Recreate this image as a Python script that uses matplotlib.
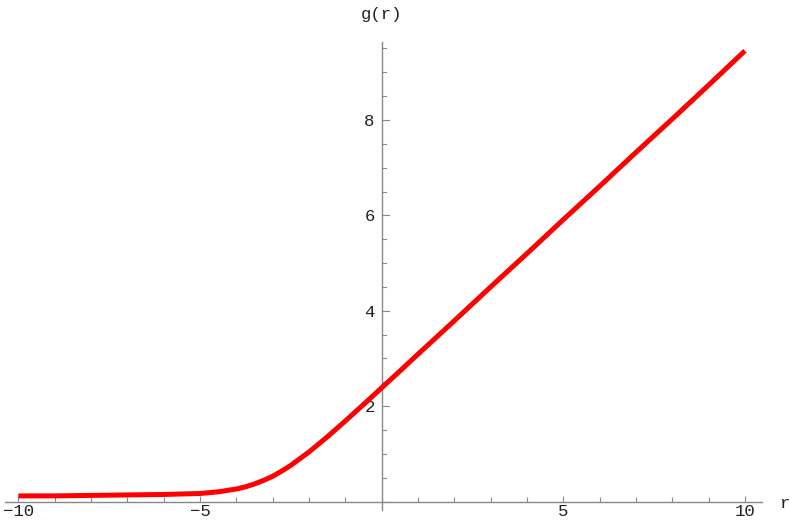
import matplotlib
matplotlib.use("Agg")
import matplotlib.pyplot as plt
from matplotlib.ticker import MultipleLocator, FixedLocator

plt.rcParams['font.family'] = ['Liberation Mono', 'DejaVu Sans Mono']

# data
r_vals = [-10, -9, -8, -7, -6, -5, -4.5, -4, -3.75, -3.5, -3.25, -3, -2.75, -2.5, -2.25, -2,
          -1.5, -1, -0.5, 0, 0.5, 1, 2, 3, 4, 5, 6, 7, 8, 9, 10]
g_vals = [0.12, 0.12, 0.13, 0.14, 0.15, 0.17, 0.205, 0.265, 0.31, 0.37, 0.445, 0.53, 0.64, 0.76, 0.90, 1.04,
          1.355, 1.69, 2.035, 2.385, 2.735, 3.09, 3.79, 4.50, 5.20, 5.91, 6.61, 7.32, 8.02, 8.73, 9.45]
x_major = [-10, -5, 5, 10]
x_labels = ["\u221210", "\u22125", "5", "10"]
y_major = [2, 4, 6, 8]
y_labels = ["2", "4", "6", "8"]

fig = plt.figure(figsize=(7.9, 5.3), dpi=100)
ax = fig.add_axes([4.9 / 790, (530 - 510.2) / 530, (762 - 4.9) / 790, (510.2 - 42.2) / 530])
ax.set_xlim(-10.37, 10.47)
ax.set_ylim(-0.18, 9.63)

ax.plot(r_vals, g_vals, color='#ff0000', lw=3.6, solid_capstyle='butt',
        solid_joinstyle='round', clip_on=False, zorder=3)

axis_col = '#888888'
for s in ['top', 'right']:
    ax.spines[s].set_visible(False)
ax.spines['left'].set_position(('data', 0))
ax.spines['bottom'].set_position(('data', 0))
for s in ['left', 'bottom']:
    ax.spines[s].set_color(axis_col)
    ax.spines[s].set_linewidth(1.0)

ax.xaxis.set_major_locator(FixedLocator(x_major))
ax.set_xticklabels(x_labels)
ax.xaxis.set_minor_locator(MultipleLocator(1))
ax.yaxis.set_major_locator(FixedLocator(y_major))
ax.set_yticklabels(y_labels)
ax.yaxis.set_minor_locator(MultipleLocator(0.5))

ax.tick_params(axis='x', which='major', direction='in', length=4.5, width=0.8,
               color=axis_col, labelsize=12.5, pad=2, labelcolor='#222222')
ax.tick_params(axis='x', which='minor', direction='in', length=3.5, width=0.8, color=axis_col)
ax.tick_params(axis='y', which='major', direction='out', length=0, width=0.8,
               color=axis_col, labelsize=12.5, pad=5, labelcolor='#222222')
ax.tick_params(axis='y', which='minor', direction='out', length=0)
# y ticks point to the right of the axis
for t in ax.yaxis.get_major_ticks():
    t.tick1line.set_visible(False)
for yv in [v * 0.5 for v in range(0, 20)]:
    L = 0.2 if (yv in y_major or yv == 0) else 0.13
    ax.plot([0, L], [yv, yv], color=axis_col, lw=0.8, clip_on=False, zorder=2)

fig.text(381 / 790, 1 - 15 / 530, 'g(r)', ha='center', va='center', fontsize=12.5, color='#222222')
fig.text(785 / 790, 1 - 503 / 530, 'r', ha='center', va='center', fontsize=12.5, color='#222222')

fig.savefig('out.png', dpi=100, facecolor='white')
